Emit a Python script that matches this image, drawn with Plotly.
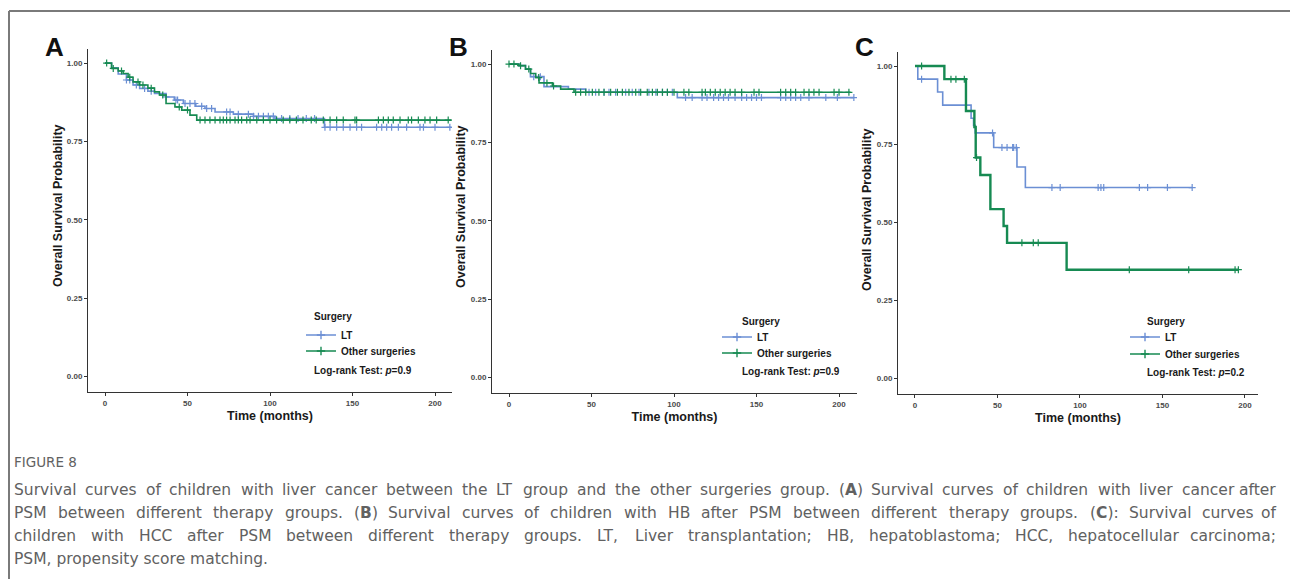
import plotly.graph_objects as go

W, H = 1290, 579

BLUE = "#6b8fd4"
GREEN = "#168a52"

# ---------------- data ----------------
# Panel A
A_LT_t = [0, 4, 8, 13, 17, 21, 26, 30, 37, 42, 47.5, 55, 60.6, 66.7, 77.8, 90, 103, 133]
A_LT_s = [1.0, 0.985, 0.965, 0.946, 0.93, 0.919, 0.91, 0.903, 0.892, 0.882, 0.871, 0.862, 0.855, 0.844, 0.837, 0.83, 0.823, 0.795]
A_LT_end = 210
A_LT_c = [13, 15, 19, 24, 28, 37, 43, 44, 48.5, 51.5, 54.5, 58.6, 61.6, 64.6, 73.7, 75.8, 80.8, 86.9, 90, 93, 96, 99,
          102, 107, 112, 117, 122, 127, 133.3, 136.4, 140.4, 144.4, 148.5, 152.5, 155.5, 164.6, 167.7, 170.7,
          173.7, 177.8, 182.8, 190.9, 193, 200, 209]
A_OS_t = [0, 4, 8, 11, 14, 17, 21, 26, 30, 33, 37, 42.4, 46.5, 51.5, 55.6]
A_OS_s = [1.0, 0.983, 0.975, 0.967, 0.955, 0.94, 0.93, 0.92, 0.908, 0.898, 0.871, 0.86, 0.85, 0.834, 0.818]
A_OS_end = 210
A_OS_c = [1, 5, 10, 15, 20, 23, 28, 35, 45, 50, 57.6, 60.6, 63.6, 66.7, 69.7, 71.7, 73.7, 75.8, 78.8, 80.8, 82.8,
          85.9, 87.9, 92, 96, 100, 104, 108, 112, 116, 120, 125, 128, 132.3, 136.4, 140.4, 144.4, 151.5, 152.5,
          165.7, 168.7, 171.7, 174.7, 178.8, 183.8, 185.8, 189.9, 193.9, 197, 201, 208]

# Panel B
B_LT_t = [0, 6, 10, 13, 21.2, 36, 46.5, 102]
B_LT_s = [1.0, 0.995, 0.984, 0.96, 0.928, 0.92, 0.91, 0.893]
B_LT_end = 209
B_LT_c = [15, 19, 48.5, 52.5, 57.6, 60.6, 64.6, 70.7, 74.7, 78.8, 84.8, 89, 93, 96, 99, 107, 111, 117, 120, 124,
          127, 130, 133, 137, 141, 144, 147, 150, 153, 164.6, 167.7, 170.7, 173.7, 176.8, 181.8, 192, 199, 209]
B_OS_t = [0, 6, 10, 13.1, 16.2, 18.2, 26.3, 31.3, 39.4]
B_OS_s = [1.0, 0.995, 0.984, 0.97, 0.957, 0.94, 0.93, 0.92, 0.91]
B_OS_end = 207
B_OS_c = [0, 3, 7, 12, 18, 23, 27, 40.4, 43.4, 46.5, 50.5, 54.5, 57.6, 61.6, 65.7, 68.7, 72.7, 76.8, 79.8, 83.8,
          86.9, 89.9, 93, 96, 100, 106, 109, 117, 119, 122, 125, 128, 131, 134, 137, 141, 148.5, 151.5, 164.6,
          167.7, 170.7, 173.7, 178.8, 181.8, 184.8, 187.9, 197, 200, 206]

# Panel C
C_LT_t = [0, 1.7, 13.7, 16.8, 34, 35.5, 36.5, 47.7, 61.8, 66.9]
C_LT_s = [1.0, 0.958, 0.917, 0.875, 0.833, 0.81, 0.786, 0.739, 0.677, 0.611]
C_LT_end = 168
C_LT_c = [4, 47, 52.7, 55.8, 59.2, 59.8, 61.4, 83, 88, 111, 112.7, 114.4, 136, 141, 153, 168]
C_OS_t = [0, 17.8, 30.9, 36, 36.8, 39.6, 45.7, 53.7, 55.8, 91.9]
C_OS_s = [1.0, 0.958, 0.856, 0.805, 0.707, 0.651, 0.542, 0.488, 0.434, 0.348]
C_OS_end = 196
C_OS_c = [4, 21.8, 24.8, 29.9, 37.3, 64.8, 71.7, 74.7, 129.9, 165.9, 194, 196]

P_VALUES = ["0.9", "0.9", "0.2"]
PANEL_LABELS = ["A", "B", "C"]
GROUPS = ["LT", "Other surgeries"]
X_TICKS = [0, 50, 100, 150, 200]
Y_TICKS = [0, 0.25, 0.5, 0.75, 1.0]
Y_TICKTEXT = ["0.00", "0.25", "0.50", "0.75", "1.00"]
Y_TITLE = "Overall Survival Probability"
X_TITLE = "Time (months)"

CAPTION_HEAD = "FIGURE 8"
CAPTION_LINES = [
    "Survival curves of children with liver cancer between the LT group and the other surgeries group. "
    "(A) Survival curves of children with liver cancer after",
    "PSM between different therapy groups. (B) Survival curves of children with HB after PSM between "
    "different therapy groups. (C): Survival curves of",
    "children with HCC after PSM between different therapy groups. LT, Liver transplantation; HB, "
    "hepatoblastoma; HCC, hepatocellular carcinoma;",
    "PSM, propensity score matching.",
]

# ---------------- layout geometry (pixels) ----------------
panels = [
    dict(x0=88, x1=452, y0=49, y1=392, xr=[-10.3, 210.3], yr=[-0.05, 1.045], ytx=58, yty=206),
    dict(x0=492, x1=857, y0=50, y1=393, xr=[-10.3, 210.9], yr=[-0.05, 1.045], ytx=461, yty=207),
    dict(x0=898, x1=1258, y0=52, y1=394, xr=[-10.3, 207.9], yr=[-0.05, 1.045], ytx=867, yty=210),
]
# (title/logrank x, item text x, title y, LT y, Other y, logrank y)
legend_geo = [
    (312, 341, 316, 335, 351, 370),
    (740, 757, 321, 337, 353, 371),
    (1145, 1165, 321, 337, 354, 372),
]

series = [
    [(A_LT_t, A_LT_s, A_LT_end, A_LT_c), (A_OS_t, A_OS_s, A_OS_end, A_OS_c)],
    [(B_LT_t, B_LT_s, B_LT_end, B_LT_c), (B_OS_t, B_OS_s, B_OS_end, B_OS_c)],
    [(C_LT_t, C_LT_s, C_LT_end, C_LT_c), (C_OS_t, C_OS_s, C_OS_end, C_OS_c)],
]
widths = [[1.6, 1.6], [1.6, 1.6], [1.6, 2.4]]
colors = [BLUE, GREEN]


def step_val(ts, ss, t):
    v = ss[0]
    for ti, si in zip(ts, ss):
        if ti <= t:
            v = si
    return v


fig = go.Figure()
FONT = "Liberation Sans"
BOLD = dict(family=FONT, color="#1a1a1a", weight="bold")
legend_layout = {}
leg_count = 0

for i, (p, ser) in enumerate(zip(panels, series)):
    xa = "x" if i == 0 else f"x{i+1}"
    ya = "y" if i == 0 else f"y{i+1}"
    tx, itx, ty, y_lt, y_os, y_lr = legend_geo[i]
    for g, (ts, ss, end, cens) in enumerate(ser):
        fig.add_trace(go.Scatter(
            x=list(ts) + [end], y=list(ss) + [ss[-1]], mode="lines",
            line=dict(color=colors[g], width=widths[i][g], shape="hv"),
            xaxis=xa, yaxis=ya, showlegend=False, hoverinfo="skip"))
        fig.add_trace(go.Scatter(
            x=cens, y=[step_val(ts, ss, c) for c in cens], mode="markers",
            marker=dict(symbol="cross-thin", size=5, line=dict(color=colors[g], width=1.2)),
            xaxis=xa, yaxis=ya, showlegend=False, hoverinfo="skip"))
        leg_count += 1
        lname = "legend" if leg_count == 1 else f"legend{leg_count}"
        fig.add_trace(go.Scatter(
            x=[None], y=[None], mode="lines+markers", name=GROUPS[g],
            line=dict(color=colors[g], width=1.5),
            marker=dict(symbol="cross-thin", size=6, line=dict(color=colors[g], width=1.4)),
            xaxis=xa, yaxis=ya, showlegend=True, legend=lname))
        legend_layout[lname] = dict(
            x=(itx - 40) / W, y=1 - (y_lt if g == 0 else y_os) / H, xanchor="left", yanchor="middle",
            bgcolor="rgba(0,0,0,0)", itemwidth=30, borderwidth=0,
            font=dict(size=10, **BOLD))

    axcommon = dict(showline=True, linecolor="#333333", linewidth=1, ticks="outside", ticklen=3,
                    tickcolor="#333333", tickwidth=1, showgrid=False, zeroline=False,
                    tickfont=dict(family=FONT, size=8, color="#4a4a4a", weight="bold"))
    fig.update_layout(**{
        ("xaxis" if i == 0 else f"xaxis{i+1}"): dict(
            domain=[p["x0"] / W, p["x1"] / W], range=p["xr"], tickvals=X_TICKS,
            anchor=ya, title=dict(text=X_TITLE, standoff=4, font=dict(size=12.5, **BOLD)),
            **axcommon),
        ("yaxis" if i == 0 else f"yaxis{i+1}"): dict(
            domain=[1 - p["y1"] / H, 1 - p["y0"] / H], range=p["yr"], tickvals=Y_TICKS,
            ticktext=Y_TICKTEXT, anchor=xa, **axcommon),
    })
    fig.add_annotation(x=p["ytx"] / W, y=1 - p["yty"] / H, xref="paper", yref="paper", xanchor="center",
                       yanchor="middle", showarrow=False, textangle=-90, text=Y_TITLE,
                       font=dict(size=12.5, **BOLD))
    fig.add_annotation(x=tx / W, y=1 - ty / H, xref="paper", yref="paper", xanchor="left",
                       yanchor="middle", showarrow=False, text="Surgery", font=dict(size=10, **BOLD))
    fig.add_annotation(x=tx / W, y=1 - y_lr / H, xref="paper", yref="paper",
                       xanchor="left", yanchor="middle", showarrow=False,
                       text=f"Log-rank Test: <i>p</i>={P_VALUES[i]}", font=dict(size=10, **BOLD))
    fig.add_annotation(x=(p["x0"] - 45) / W, y=1 - 47 / H, xref="paper", yref="paper",
                       xanchor="left", yanchor="middle", showarrow=False, text=PANEL_LABELS[i],
                       font=dict(family=FONT, size=26, color="#111", weight="bold"))

fig.update_layout(**legend_layout)

# ---------------- caption (justified, word by word) ----------------
CAP_FAMILY = "DejaVu Sans"
CAP_SIZE = 15.5
CAP_COLOR = "#616161"
CW = {' ': .318, 'a': .613, 'b': .635, 'c': .55, 'd': .635, 'e': .615, 'f': .352, 'g': .635, 'h': .634,
      'i': .278, 'j': .278, 'k': .579, 'l': .278, 'm': .974, 'n': .634, 'o': .612, 'p': .635, 'q': .635,
      'r': .411, 's': .521, 't': .392, 'u': .634, 'v': .592, 'w': .818, 'x': .592, 'y': .592, 'z': .525,
      'A': .684, 'B': .686, 'C': .698, 'E': .632, 'F': .575, 'G': .775, 'H': .752, 'I': .295, 'L': .557,
      'M': .863, 'P': .603, 'R': .695, 'S': .635, 'T': .611, 'U': .732, '(': .39, ')': .39, '.': .318,
      ',': .318, ';': .337, ':': .337}


def word_w(wd):
    return sum(CW.get(ch, .636) for ch in wd) * CAP_SIZE


def fmt(wd):
    for L in "ABC":
        wd = wd.replace(f"({L})", f"(<b>{L}</b>)")
    return wd


capfont = dict(family=CAP_FAMILY, size=CAP_SIZE, color=CAP_COLOR)
fig.add_annotation(x=12 / W, y=1 - 462 / H, xref="paper", yref="paper", xanchor="left", yanchor="middle",
                   showarrow=False, text=CAPTION_HEAD, font=dict(family=CAP_FAMILY, size=13.5, color=CAP_COLOR))
LEFT, RIGHT = 12, 1278
for li, line in enumerate(CAPTION_LINES):
    yy = 1 - (490 + 23 * li) / H
    words = line.split(" ")
    if li == len(CAPTION_LINES) - 1:
        fig.add_annotation(x=LEFT / W, y=yy, xref="paper", yref="paper", xanchor="left", yanchor="middle",
                           showarrow=False, text=line, font=capfont)
        continue
    ws = [word_w(w) for w in words]
    gap = (RIGHT - LEFT - sum(ws)) / (len(words) - 1)
    xpos = LEFT
    for k, (wd, wv) in enumerate(zip(words, ws)):
        last = k == len(words) - 1
        fig.add_annotation(x=(RIGHT if last else xpos) / W, y=yy, xref="paper", yref="paper",
                           xanchor="right" if last else "left", yanchor="middle",
                           showarrow=False, text=fmt(wd), font=capfont)
        xpos += wv + gap

# frame (top and left rules)
fig.add_shape(type="line", xref="paper", yref="paper", x0=9 / W, x1=1, y0=1 - 11 / H, y1=1 - 11 / H,
              line=dict(color="#7a7a7a", width=2))
fig.add_shape(type="line", xref="paper", yref="paper", x0=9 / W, x1=9 / W, y0=0, y1=1 - 11 / H,
              line=dict(color="#7a7a7a", width=2))

fig.update_layout(width=W, height=H, margin=dict(l=0, r=0, t=0, b=0), plot_bgcolor="white",
                  paper_bgcolor="white", showlegend=True)
fig.write_html("out.html")
